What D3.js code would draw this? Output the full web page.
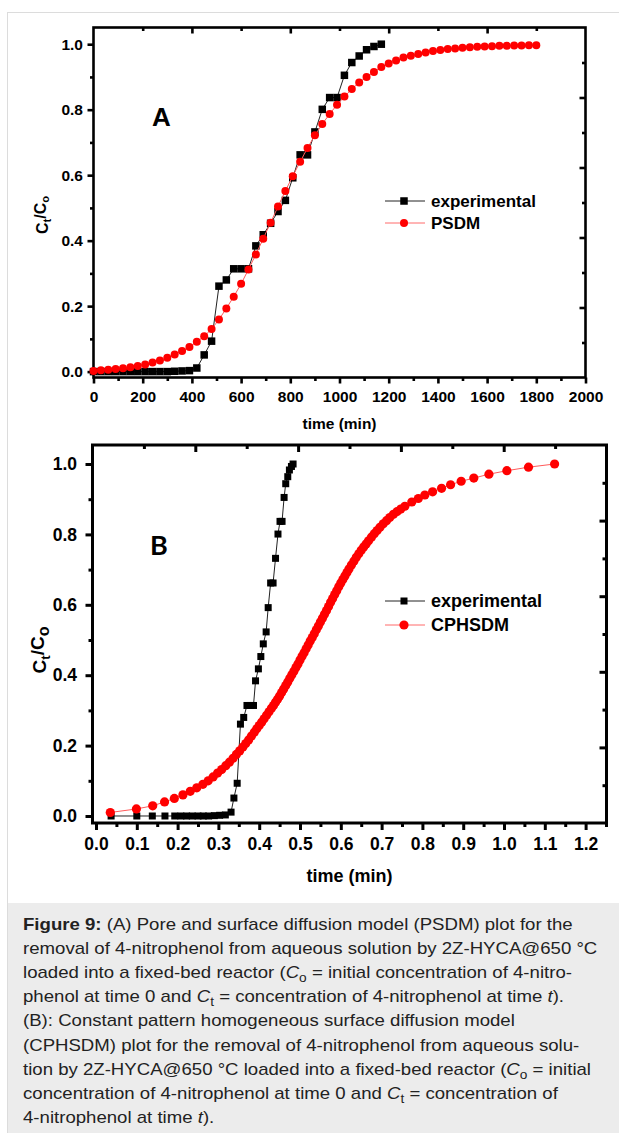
<!DOCTYPE html>
<html>
<head>
<meta charset="utf-8">
<script src="https://cdn.jsdelivr.net/npm/d3@7"></script>
<style>
  body { margin: 0; background: #fff; }
  svg text { font-family: "Liberation Sans", Arial, sans-serif; }
</style>
</head>
<body>
<svg id="fig" width="619" height="1133"></svg>
<script>
// ---- Panel A data (time in min) ----
const expTimeA = [0, 30, 60, 90, 120, 150, 180, 210, 240, 270, 300, 330, 360, 390,
  420, 450, 480, 510, 540, 570, 600, 630, 660, 690, 720, 750, 780, 810, 840, 870,
  900, 930, 960, 990, 1020, 1050, 1080, 1110, 1140, 1170];
const expValues = [0, 0, 0, 0, 0, 0, 0, 0, 0, 0, 0, 0.001, 0.002, 0.003,
  0.011, 0.051, 0.093, 0.261, 0.280, 0.314, 0.314, 0.314, 0.384, 0.418, 0.453, 0.489,
  0.523, 0.592, 0.662, 0.662, 0.732, 0.801, 0.837, 0.837, 0.905, 0.944, 0.964, 0.983,
  0.993, 1.0];

const psdmTime = [0, 30, 60, 90, 120, 150, 180, 210, 240, 270, 300, 330, 360, 390,
  420, 450, 480, 510, 540, 570, 600, 630, 660, 690, 720, 750, 780, 810, 840, 870,
  900, 930, 960, 990, 1020, 1050, 1080, 1110, 1140, 1170, 1200, 1230, 1260, 1290,
  1320, 1350, 1380, 1410, 1440, 1470, 1500, 1530, 1560, 1590, 1620, 1650, 1680,
  1710, 1740, 1770, 1800];
const psdmValues = [0.002, 0.004, 0.006, 0.008, 0.010, 0.013, 0.017, 0.022, 0.028,
  0.034, 0.042, 0.052, 0.063, 0.075, 0.091, 0.108, 0.130, 0.159, 0.193, 0.229, 0.268,
  0.312, 0.358, 0.406, 0.455, 0.504, 0.552, 0.597, 0.641, 0.683, 0.722, 0.756, 0.787,
  0.815, 0.840, 0.863, 0.883, 0.900, 0.915, 0.930, 0.941, 0.950, 0.959, 0.965, 0.970,
  0.975, 0.979, 0.982, 0.985, 0.987, 0.989, 0.991, 0.992, 0.993, 0.994, 0.995, 0.995,
  0.996, 0.996, 0.997, 0.997];

// ---- Panel B data ----
const expTimeB = [0.037, 0.100, 0.138, 0.169, 0.193, 0.208, 0.222, 0.236, 0.250, 0.263,
  0.276, 0.290, 0.303, 0.317, 0.331, 0.338, 0.346, 0.354, 0.362, 0.370, 0.378, 0.386,
  0.391, 0.398, 0.404, 0.410, 0.417, 0.422, 0.428, 0.434, 0.440, 0.446, 0.451, 0.456,
  0.461, 0.465, 0.470, 0.474, 0.479, 0.483];
// same measured breakthrough values as panel A
const expValuesB = expValues;

const cphsdmTime = [0.035, 0.099, 0.139, 0.168, 0.192, 0.213, 0.231, 0.247, 0.262, 0.275,
  0.287, 0.298, 0.308, 0.318, 0.327, 0.336, 0.344, 0.352, 0.360, 0.367,
  0.374, 0.381, 0.388, 0.394, 0.400, 0.406, 0.412, 0.418, 0.424, 0.430,
  0.435, 0.440, 0.445, 0.450, 0.455, 0.460, 0.465, 0.470, 0.475, 0.480,
  0.485, 0.490, 0.495, 0.500, 0.505, 0.510, 0.515, 0.520, 0.525, 0.530,
  0.535, 0.540, 0.545, 0.550, 0.555, 0.560, 0.565, 0.570, 0.575, 0.580,
  0.585, 0.590, 0.595, 0.600, 0.605, 0.610, 0.615, 0.620, 0.626, 0.632,
  0.638, 0.644, 0.650, 0.656, 0.662, 0.668, 0.675, 0.682, 0.689, 0.696,
  0.704, 0.712, 0.720, 0.729, 0.738, 0.747, 0.757, 0.774, 0.790, 0.806,
  0.825, 0.847, 0.869, 0.895, 0.926, 0.963, 1.007, 1.060, 1.124];
const cphsdmValues = [0.010, 0.020, 0.029, 0.040, 0.050, 0.060, 0.070, 0.080, 0.090, 0.100,
  0.111, 0.122, 0.132, 0.143, 0.153, 0.164, 0.175, 0.185, 0.196, 0.206,
  0.216, 0.227, 0.238, 0.248, 0.257, 0.266, 0.276, 0.286, 0.296, 0.306,
  0.314, 0.323, 0.332, 0.341, 0.351, 0.361, 0.371, 0.381, 0.391, 0.401,
  0.411, 0.422, 0.432, 0.443, 0.454, 0.464, 0.475, 0.486, 0.497, 0.507,
  0.518, 0.529, 0.540, 0.551, 0.562, 0.573, 0.584, 0.595, 0.607, 0.618,
  0.629, 0.640, 0.651, 0.662, 0.672, 0.682, 0.692, 0.702, 0.713, 0.724,
  0.735, 0.745, 0.755, 0.764, 0.773, 0.782, 0.792, 0.802, 0.811, 0.820,
  0.830, 0.839, 0.848, 0.857, 0.865, 0.872, 0.880, 0.892, 0.902, 0.912,
  0.921, 0.931, 0.941, 0.951, 0.960, 0.971, 0.981, 0.991, 1.000];

// ---- Tick values ----
const xTicksA = [0, 200, 400, 600, 800, 1000, 1200, 1400, 1600, 1800, 2000];
const xMinorA = [100, 300, 500, 700, 900, 1100, 1300, 1500, 1700, 1900];
const xTicksB = [0, 0.1, 0.2, 0.3, 0.4, 0.5, 0.6, 0.7, 0.8, 0.9, 1.0, 1.1, 1.2];
const xMinorB = [0.05, 0.15, 0.25, 0.35, 0.45, 0.55, 0.65, 0.75, 0.85, 0.95, 1.05, 1.15, 1.25];
const yTicks = [0, 0.2, 0.4, 0.6, 0.8, 1.0];
const yMinor = [0.1, 0.3, 0.5, 0.7, 0.9];
// top / right mirror axes split the frame in ten
const mirrorMajor = [2, 4, 6, 8];
const mirrorMinor = [1, 3, 5, 7, 9];

const svg = d3.select('#fig');

// page frame and caption box
svg.append('line').attr('x1', 7).attr('x2', 619).attr('y1', 12.5).attr('y2', 12.5)
  .attr('stroke', '#dcdcdc');
svg.append('rect').attr('x', 7.5).attr('y', 903).attr('width', 612).attr('height', 230)
  .attr('fill', '#ececec');
svg.append('line').attr('x1', 7.5).attr('x2', 7.5).attr('y1', 12).attr('y2', 1133)
  .attr('stroke', '#dcdcdc');

const drawPanel = p => {
  const g = svg.append('g');

  const x = d3.scaleLinear().domain(p.xDomain).range([p.left, p.right]);
  const y = d3.scaleLinear().domain(p.yDomain).range([p.bottom, p.top]);
  const xm = d3.scaleLinear().domain([0, 10]).range([p.left, p.right]);
  const ym = d3.scaleLinear().domain([0, 10]).range([p.bottom, p.top]);

  const styleAxis = sel => {
    sel.select('.domain').remove();
    sel.selectAll('line').attr('stroke', '#000').attr('stroke-width', p.lw);
    sel.selectAll('text')
      .attr('fill', '#000')
      .attr('font-weight', 'bold')
      .attr('font-size', p.tickFont);
  };

  // bottom axis
  g.append('g').attr('transform', `translate(0,${p.bottom})`)
    .call(d3.axisBottom(x).tickValues(p.xMinor).tickSize(p.minorLen).tickFormat(''))
    .call(styleAxis);
  g.append('g').attr('transform', `translate(0,${p.bottom})`)
    .call(d3.axisBottom(x).tickValues(p.xTicks).tickSize(p.majorLen)
      .tickPadding(p.xPad).tickFormat(p.xFmt))
    .call(styleAxis);

  // left axis
  g.append('g').attr('transform', `translate(${p.left},0)`)
    .call(d3.axisLeft(y).tickValues(yMinor).tickSize(p.minorLen).tickFormat(''))
    .call(styleAxis);
  g.append('g').attr('transform', `translate(${p.left},0)`)
    .call(d3.axisLeft(y).tickValues(yTicks).tickSize(p.majorLen)
      .tickPadding(p.yPad).tickFormat(d3.format('.1f')))
    .call(styleAxis);

  // top and right mirror ticks, pointing inward
  g.append('g').attr('transform', `translate(0,${p.top})`)
    .call(d3.axisTop(xm).tickValues(mirrorMinor).tickSize(-p.minorLen).tickFormat(''))
    .call(styleAxis);
  g.append('g').attr('transform', `translate(0,${p.top})`)
    .call(d3.axisTop(xm).tickValues(mirrorMajor).tickSize(-p.majorLen).tickFormat(''))
    .call(styleAxis);
  g.append('g').attr('transform', `translate(${p.right},0)`)
    .call(d3.axisRight(ym).tickValues(mirrorMinor).tickSize(-p.minorLen).tickFormat(''))
    .call(styleAxis);
  g.append('g').attr('transform', `translate(${p.right},0)`)
    .call(d3.axisRight(ym).tickValues(mirrorMajor).tickSize(-p.majorLen).tickFormat(''))
    .call(styleAxis);

  // frame
  g.append('rect')
    .attr('x', p.left).attr('y', p.top)
    .attr('width', p.right - p.left).attr('height', p.bottom - p.top)
    .attr('fill', 'none').attr('stroke', '#000').attr('stroke-width', p.lw);

  const line = d3.line().x(d => x(d[0])).y(d => y(d[1]));
  const expData = d3.zip(p.expX, p.expY);
  const modelData = d3.zip(p.modelX, p.modelY);

  // experimental series
  g.append('path').datum(expData).attr('d', line)
    .attr('fill', 'none').attr('stroke', '#222').attr('stroke-width', 1);
  g.selectAll('.sq').data(expData).enter().append('rect')
    .attr('x', d => x(d[0]) - p.sq / 2).attr('y', d => y(d[1]) - p.sq / 2)
    .attr('width', p.sq).attr('height', p.sq).attr('fill', '#000');

  // model series
  g.append('path').datum(modelData).attr('d', line)
    .attr('fill', 'none').attr('stroke', '#ff5a5a').attr('stroke-width', 1);
  g.selectAll('.dot').data(modelData).enter().append('circle')
    .attr('cx', d => x(d[0])).attr('cy', d => y(d[1]))
    .attr('r', p.r).attr('fill', '#ff0000');

  // legend
  const legend = [
    { label: 'experimental', color: '#222', shape: 'square', y: p.legendY[0] },
    { label: p.modelName, color: '#ff6a6a', shape: 'circle', y: p.legendY[1] }
  ];
  legend.forEach(d => {
    g.append('line').attr('x1', 385).attr('x2', 425).attr('y1', d.y).attr('y2', d.y)
      .attr('stroke', d.color).attr('stroke-width', 1);
    if (d.shape === 'square') {
      g.append('rect').attr('x', 404 - p.sq / 2).attr('y', d.y - p.sq / 2)
        .attr('width', p.sq).attr('height', p.sq).attr('fill', '#000');
    } else {
      g.append('circle').attr('cx', 404).attr('cy', d.y).attr('r', p.r).attr('fill', '#ff0000');
    }
    g.append('text').attr('x', 431).attr('y', d.y).attr('dy', '0.36em')
      .attr('font-size', p.legendFont).attr('font-weight', 'bold').text(d.label);
  });

  // panel letter
  g.append('text').attr('x', p.letterX).attr('y', p.letterY)
    .attr('font-size', p.letterFont).attr('font-weight', 'bold')
    .style('font-family', p.letterFamily).text(p.letter);

  // x title
  g.append('text').attr('x', (p.left + p.right) / 2).attr('y', p.xTitleY)
    .attr('text-anchor', 'middle').attr('font-size', p.titleFont)
    .attr('font-weight', 'bold').text('time (min)');

  // y title C_t/C_o
  const yt = g.append('text')
    .attr('transform', `translate(${p.yTitleX},${p.yTitleY}) rotate(-90)`)
    .attr('text-anchor', 'middle').attr('font-size', p.yTitleFont).attr('font-weight', 'bold');
  yt.append('tspan').text('C');
  yt.append('tspan').attr('dy', '0.3em').attr('font-size', '70%').text('t');
  yt.append('tspan').attr('dy', '-0.3em').text('/C');
  yt.append('tspan').attr('dy', '0.3em').attr('font-size', p.oSize).text('o');
};

drawPanel({
  left: 93.5, right: 585.5, top: 27.5, bottom: 377.5,
  xDomain: [0, 2000], yDomain: [-0.018, 1.051],
  xTicks: xTicksA, xMinor: xMinorA, xFmt: d3.format('d'),
  majorLen: 6, minorLen: 3.5, lw: 2.6,
  tickFont: 15.5, xPad: 7, yPad: 4.5,
  expX: expTimeA, expY: expValues, modelX: psdmTime, modelY: psdmValues,
  sq: 7.5, r: 4,
  modelName: 'PSDM', legendY: [201, 223], legendFont: 17,
  letter: 'A', letterX: 152, letterY: 126, letterFont: 26,
  letterFamily: '"Liberation Sans", Arial, sans-serif',
  titleFont: 15.5, xTitleY: 429,
  yTitleX: 47.5, yTitleY: 215, yTitleFont: 16, oSize: '70%'
});

drawPanel({
  left: 92.5, right: 606.5, top: 445, bottom: 823,
  xDomain: [-0.0086, 1.2512], yDomain: [-0.0199, 1.054],
  xTicks: xTicksB, xMinor: xMinorB, xFmt: d3.format('.1f'),
  majorLen: 7, minorLen: 4, lw: 3,
  tickFont: 17.5, xPad: 7.5, yPad: 8.5,
  expX: expTimeB, expY: expValuesB, modelX: cphsdmTime, modelY: cphsdmValues,
  sq: 7, r: 4.6,
  modelName: 'CPHSDM', legendY: [601, 625], legendFont: 18,
  letter: 'B', letterX: 150, letterY: 555, letterFont: 27,
  letterFamily: 'Lato, "Open Sans", sans-serif',
  titleFont: 18, xTitleY: 882,
  yTitleX: 45.5, yTitleY: 650, yTitleFont: 19, oSize: '85%'
});

// ---- caption ----
const captionLines = [
  [{ t: 'Figure 9:', b: true }, { t: ' (A) Pore and surface diffusion model (PSDM) plot for the' }],
  [{ t: 'removal of 4-nitrophenol from aqueous solution by 2Z-HYCA@650 °C' }],
  [{ t: 'loaded into a fixed-bed reactor (' }, { t: 'C', i: true }, { t: 'o', sub: true },
    { t: ' = initial concentration of 4-nitro-' }],
  [{ t: 'phenol at time 0 and ' }, { t: 'C', i: true }, { t: 't', sub: true },
    { t: ' = concentration of 4-nitrophenol at time ' }, { t: 't', i: true }, { t: ').' }],
  [{ t: '(B): Constant pattern homogeneous surface diffusion model' }],
  [{ t: '(CPHSDM) plot for the removal of 4-nitrophenol from aqueous solu-' }],
  [{ t: 'tion by 2Z-HYCA@650 °C loaded into a fixed-bed reactor (' }, { t: 'C', i: true },
    { t: 'o', sub: true }, { t: ' = initial' }],
  [{ t: 'concentration of 4-nitrophenol at time 0 and ' }, { t: 'C', i: true },
    { t: 't', sub: true }, { t: ' = concentration of' }],
  [{ t: '4-nitrophenol at time ' }, { t: 't', i: true }, { t: ').' }]
];

// the caption glyphs are a little wider than plain Arial, so stretch horizontally
captionLines.forEach((segs, i) => {
  const txt = svg.append('text')
    .attr('transform', `translate(23,${930 + i * 24.1}) scale(1.095,1)`)
    .attr('font-size', 17).attr('fill', '#222');
  let shifted = false;
  segs.forEach(s => {
    const ts = txt.append('tspan').text(s.t);
    if (s.b) ts.attr('font-weight', 'bold');
    if (s.i) ts.attr('font-style', 'italic');
    if (s.sub) {
      ts.attr('font-size', 12.5).attr('dy', 4);
      shifted = true;
    } else if (shifted) {
      ts.attr('dy', -4);
      shifted = false;
    }
  });
});
</script>
</body>
</html>
